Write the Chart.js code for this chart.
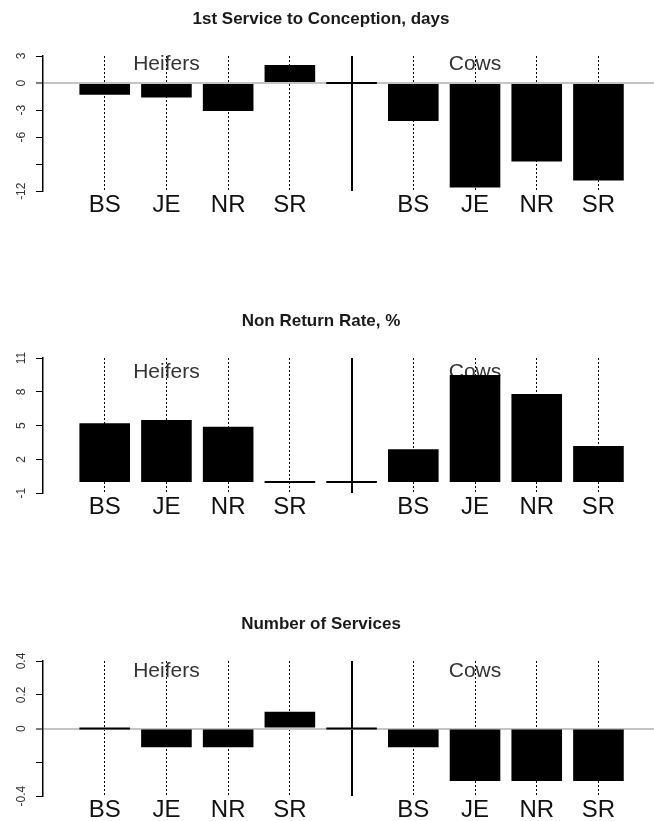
<!DOCTYPE html>
<html>
<head>
<meta charset="utf-8">
<script src="https://cdn.jsdelivr.net/npm/chart.js@4.4.1/dist/chart.umd.min.js"></script>
<style>
  html, body { margin: 0; padding: 0; background: #fff; overflow: hidden; }
  body { width: 654px; height: 821px; position: relative; }
  .panel { position: absolute; left: 0; width: 654px; height: 240px; }
</style>
</head>
<body>
<div class="panel" style="top:0px"><canvas id="conception" width="654" height="240"></canvas></div>
<div class="panel" style="top:302px"><canvas id="nonReturn" width="654" height="240"></canvas></div>
<div class="panel" style="top:605px"><canvas id="services" width="654" height="240"></canvas></div>
<script>
// bar slots: four heifer breeds, an empty separator slot, four cow breeds
const slots = ['BS', 'JE', 'NR', 'SR', '', 'BS', 'JE', 'NR', 'SR'];
const groups = ['Heifers', 'Cows'];

const conceptionDays = [-1.3, -1.6, -3.1, 2.0, 0, -4.2, -11.6, -8.7, -10.8];
const conceptionTicks = [3, 0, -3, -6, -9, -12];
const conceptionTickLabels = ['3', '0', '-3', '-6', '', '-12'];

const nonReturnRate = [5.2, 5.5, 4.9, 0, 0, 2.9, 9.5, 7.8, 3.2];
const nonReturnTicks = [11, 8, 5, 2, -1];
const nonReturnTickLabels = ['11', '8', '5', '2', '-1'];

const numberServices = [0, -0.11, -0.11, 0.1, 0, -0.11, -0.31, -0.31, -0.31];
const servicesTicks = [0.4, 0.2, 0, -0.2, -0.4];
const servicesTickLabels = ['0.4', '0.2', '0', '', '-0.4'];

const font = '"Liberation Sans", Arial, sans-serif';

// title, group labels and rotated y tick labels
const panelText = {
    id: 'panelText',
    beforeDatasetsDraw(chart, args, opts) {
        const ctx = chart.ctx;
        const x = chart.scales.x;
        ctx.save();
        ctx.font = '21px ' + font;
        ctx.fillStyle = '#333';
        ctx.textAlign = 'center';
        ctx.textBaseline = 'middle';
        groups.forEach((g, i) => {
            ctx.fillText(g, x.getPixelForValue(opts.groupAt[i]), chart.chartArea.top + opts.groupOffset);
        });
        ctx.restore();
    },
    afterDraw(chart, args, opts) {
        const ctx = chart.ctx;
        const y = chart.scales.y;
        const area = chart.chartArea;
        ctx.save();
        ctx.font = 'bold 17px ' + font;
        ctx.fillStyle = '#1a1a1a';
        ctx.textAlign = 'center';
        ctx.textBaseline = 'middle';
        ctx.fillText(opts.title, 321, 19);

        ctx.font = '12px ' + font;
        ctx.fillStyle = '#333';
        y.ticks.forEach((t, i) => {
            const label = opts.tickLabels[i];
            if (!label) return;
            ctx.save();
            ctx.translate(area.left - 21, y.getPixelForValue(t.value));
            ctx.rotate(-Math.PI / 2);
            ctx.fillText(label, 0, 0);
            ctx.restore();
        });
        ctx.restore();
    }
};

function makePanel(id, title, values, ticks, tickLabels, groupOffset) {
    return new Chart(document.getElementById(id), {
        type: 'bar',
        data: {
            datasets: [{
                data: values.map((v, i) => ({ x: i, y: v })),
                backgroundColor: '#000',
                borderWidth: 0,
                minBarLength: 2,
                barPercentage: 0.82,
                categoryPercentage: 1
            }]
        },
        options: {
            responsive: false,
            animation: false,
            layout: { padding: { left: 36, top: 56, right: 0, bottom: 20 } },
            plugins: {
                legend: { display: false },
                tooltip: { enabled: false },
                title: { display: false },
                panelText: {
                    title: title,
                    tickLabels: tickLabels,
                    groupAt: [1, 6],
                    groupOffset: groupOffset
                }
            },
            scales: {
                x: {
                    type: 'linear',
                    min: -1,
                    max: 8.9,
                    offset: false,
                    afterBuildTicks: axis => {
                        axis.ticks = slots.map((s, i) => ({ value: i }));
                    },
                    ticks: {
                        autoSkip: false,
                        maxRotation: 0,
                        padding: 0,
                        color: '#111',
                        font: { family: font, size: 24 },
                        callback: (v, i) => slots[i]
                    },
                    grid: {
                        offset: false,
                        color: '#000',
                        lineWidth: c => slots[c.index] ? 1 : 2,
                        drawTicks: false
                    },
                    border: {
                        display: false,
                        dash: c => slots[c.index] === '' ? [] : [2, 2]
                    }
                },
                y: {
                    min: ticks[ticks.length - 1],
                    max: ticks[0],
                    afterBuildTicks: axis => {
                        axis.ticks = ticks.map(v => ({ value: v }));
                    },
                    ticks: { display: false },
                    grid: {
                        color: c => (c.tick && c.tick.value === 0) ? '#c4c4c4' : 'rgba(0,0,0,0)',
                        lineWidth: c => (c.tick && c.tick.value === 0) ? 2 : 1,
                        tickColor: '#000',
                        tickWidth: 1,
                        tickLength: 7
                    },
                    border: { display: true, color: '#000', width: 1.5 }
                }
            }
        },
        plugins: [panelText]
    });
}

makePanel('conception', '1st Service to Conception, days', conceptionDays, conceptionTicks, conceptionTickLabels, 8);
makePanel('nonReturn', 'Non Return Rate, %', nonReturnRate, nonReturnTicks, nonReturnTickLabels, 14);
makePanel('services', 'Number of Services', numberServices, servicesTicks, servicesTickLabels, 10);
</script>
</body>
</html>
